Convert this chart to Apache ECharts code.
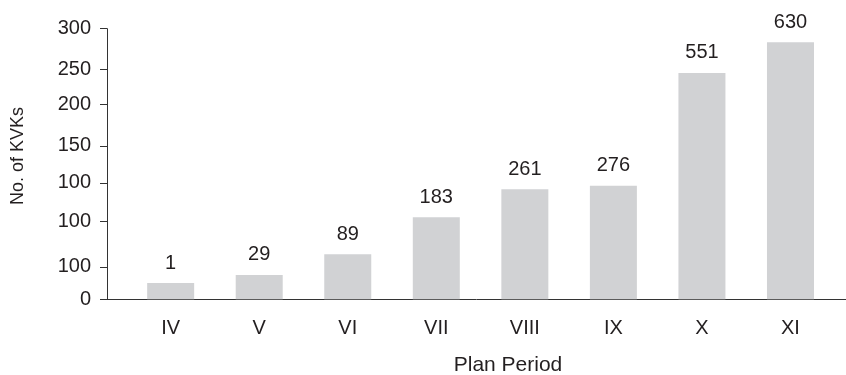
<!DOCTYPE html>
<html>
<head>
<meta charset="utf-8">
<script src="https://cdn.jsdelivr.net/npm/echarts@6/dist/echarts.min.js"></script>
<style>
html,body{margin:0;padding:0;background:#fff;}
#chart{width:846px;height:375px;}
</style>
</head>
<body>
<div id="chart"></div>
<script>
// Plan periods (categories)
const categories = ['IV', 'V', 'VI', 'VII', 'VIII', 'IX', 'X', 'XI'];
// Number of KVKs shown above each bar
const kvkCounts = [1, 29, 89, 183, 261, 276, 551, 630];
// Bar heights as drawn against the printed y-axis scale
const barHeights = [18, 27, 50, 91, 122, 126, 251, 285];
// Printed y-axis ticks (irregular in the original) and their labels
const yTickValues = [0, 36, 86, 129, 170, 216, 255, 300];
const yTickLabels = ['0', '100', '100', '100', '150', '200', '250', '300'];

const FONT = "'Liberation Sans', Arial, Helvetica, sans-serif";
const TXT = '#231f20';

const positions = categories.map((c, i) => i + 1);
const seriesData = barHeights.map((h, i) => ({ value: [positions[i], h], count: kvkCounts[i] }));

const chart = echarts.init(document.getElementById('chart'), null, { renderer: 'canvas' });
chart.setOption({
  animation: false,
  backgroundColor: '#ffffff',
  grid: { left: 107, right: 0, top: 28.7, bottom: 75.7, containLabel: false },
  xAxis: {
    type: 'value',
    min: 0.281,
    max: 8.627,
    axisLine: { show: true, onZero: false, lineStyle: { color: '#333', width: 1 } },
    axisTick: { show: false },
    splitLine: { show: false },
    axisLabel: {
      customValues: positions,
      formatter: v => categories[Math.round(v) - 1] || '',
      color: TXT, fontFamily: FONT, fontSize: 20, margin: 19
    }
  },
  yAxis: {
    type: 'value',
    min: 0,
    max: 300,
    axisLine: { show: true, lineStyle: { color: '#333', width: 1 } },
    axisTick: { show: true, customValues: yTickValues, inside: false, length: 7, lineStyle: { color: '#333' } },
    splitLine: { show: false },
    axisLabel: {
      customValues: yTickValues,
      formatter: v => { const k = yTickValues.indexOf(Math.round(v)); return k >= 0 ? yTickLabels[k] : ''; },
      color: TXT, fontFamily: FONT, fontSize: 20, margin: 16
    }
  },
  series: [{
    type: 'bar',
    data: seriesData,
    barWidth: 47,
    itemStyle: { color: '#d1d2d4' },
    label: {
      show: true,
      position: 'top',
      distance: 10,
      formatter: p => String(p.data.count),
      color: TXT, fontFamily: FONT, fontSize: 20
    }
  }],
  graphic: [
    {
      type: 'text', x: 18, y: 156, rotation: Math.PI / 2,
      style: { text: 'No. of KVKs', fill: TXT, font: '18px ' + FONT, textAlign: 'center', textVerticalAlign: 'middle' }
    },
    {
      type: 'text', x: 508, y: 365,
      style: { text: 'Plan Period', fill: TXT, font: '21px ' + FONT, textAlign: 'center', textVerticalAlign: 'middle' }
    }
  ]
});
</script>
</body>
</html>
